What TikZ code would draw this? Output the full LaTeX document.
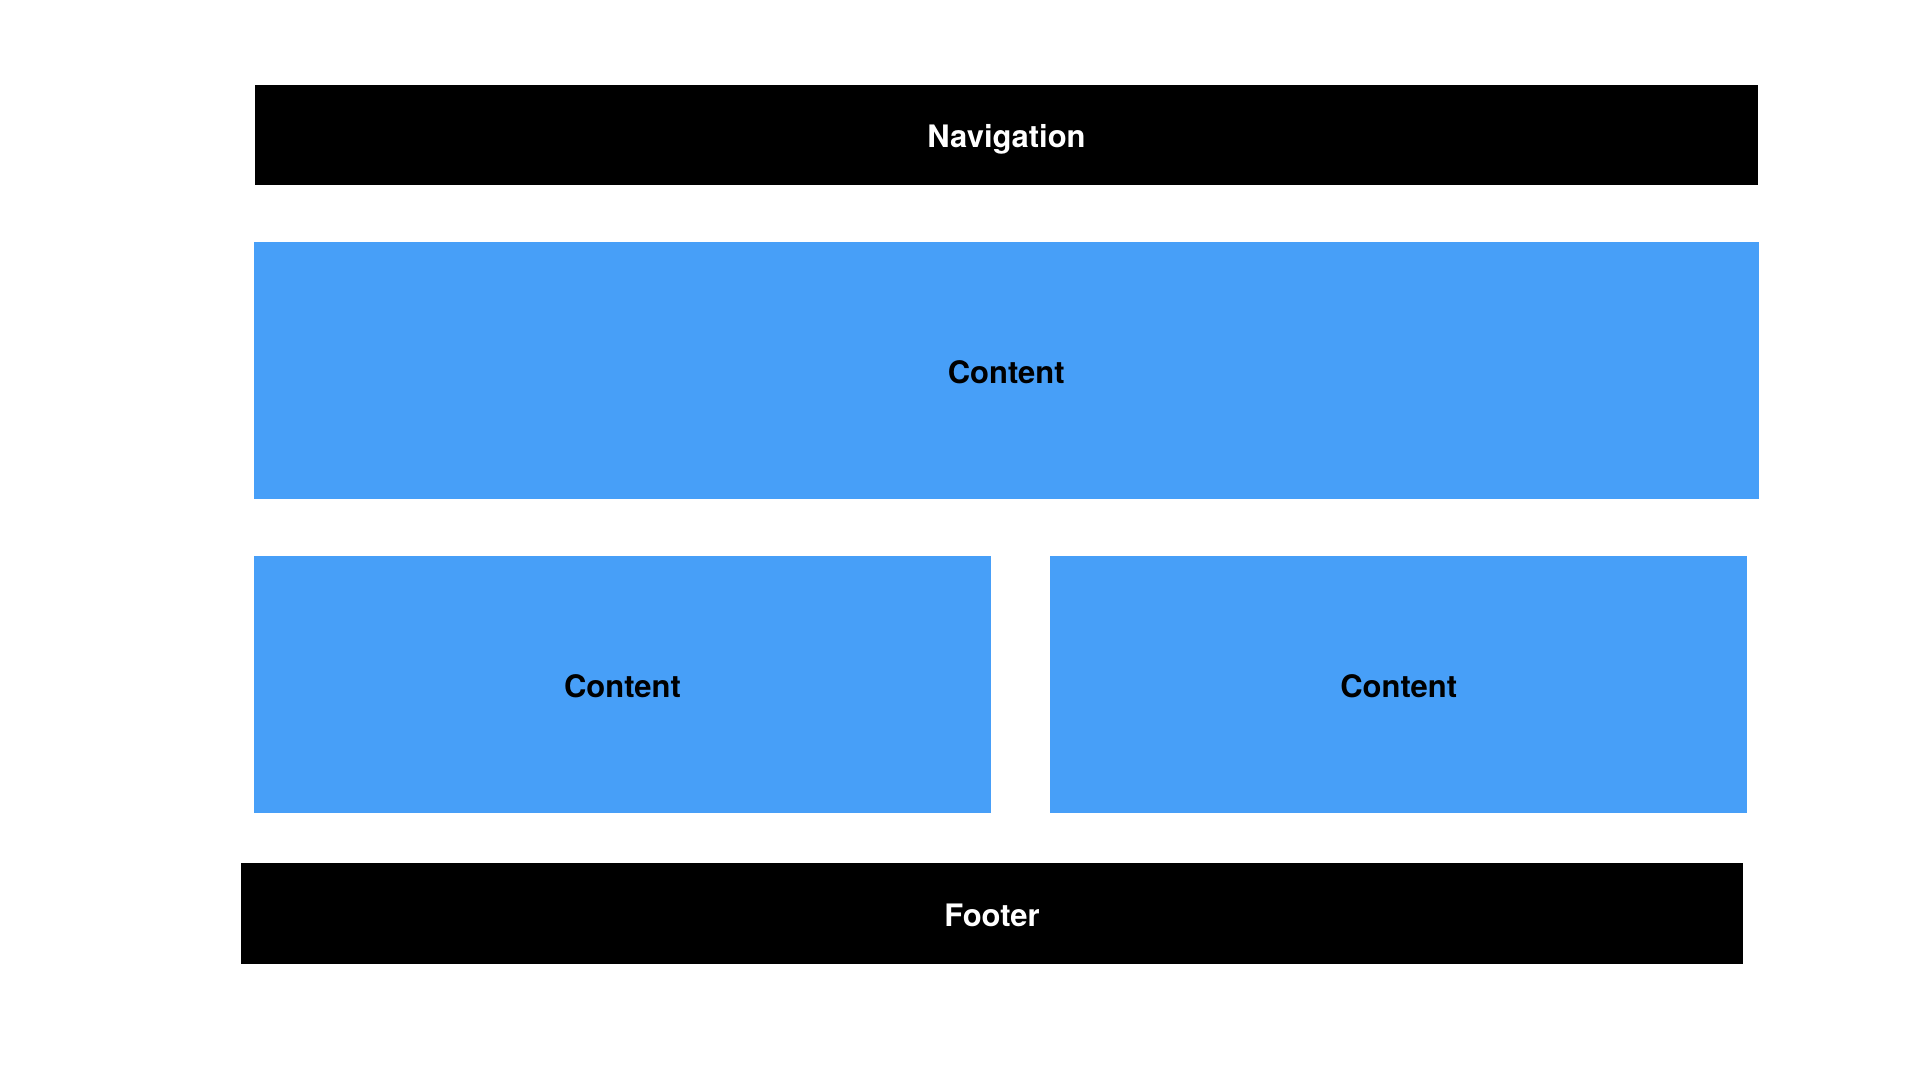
\documentclass[tikz,border=0pt]{standalone}
\usepackage{fontspec}
\setmainfont{TeX Gyre Heros}
\usepackage{xcolor}
\usepackage{tikz}
\definecolor{barfill}{HTML}{000000}
\definecolor{boxfill}{HTML}{479FF8}
\tikzset{
  bar/.style={fill=barfill, text=white, inner sep=0pt, text height=0.72em, text depth=0pt, font=\fontsize{8.8pt}{10pt}\selectfont\bfseries},
  panel/.style={fill=boxfill, text=black, inner sep=0pt, text height=0.72em, text depth=0pt, font=\fontsize{8.8pt}{10pt}\selectfont\bfseries},
}

\begin{document}
\begin{tikzpicture}[x=0.01cm, y=-0.01cm]
\useasboundingbox (0,0) rectangle (1920,1080);
% header
\node[bar, minimum width=15.02cm, minimum height=1.00cm] (nav) at (1006.5,135) {Navigation};

% content blocks
\node[panel, minimum width=15.045cm, minimum height=2.57cm] (main) at (1006.25,370.5) {Content};
\node[panel, minimum width=7.37cm, minimum height=2.57cm] (left) at (622.5,684.5) {Content};
\node[panel, minimum width=6.965cm, minimum height=2.57cm] (right) at (1398.75,684.5) {Content};

% footer
\node[bar, minimum width=15.02cm, minimum height=1.00cm] (foot) at (992,913.5) {Footer};
\end{tikzpicture}
\end{document}
